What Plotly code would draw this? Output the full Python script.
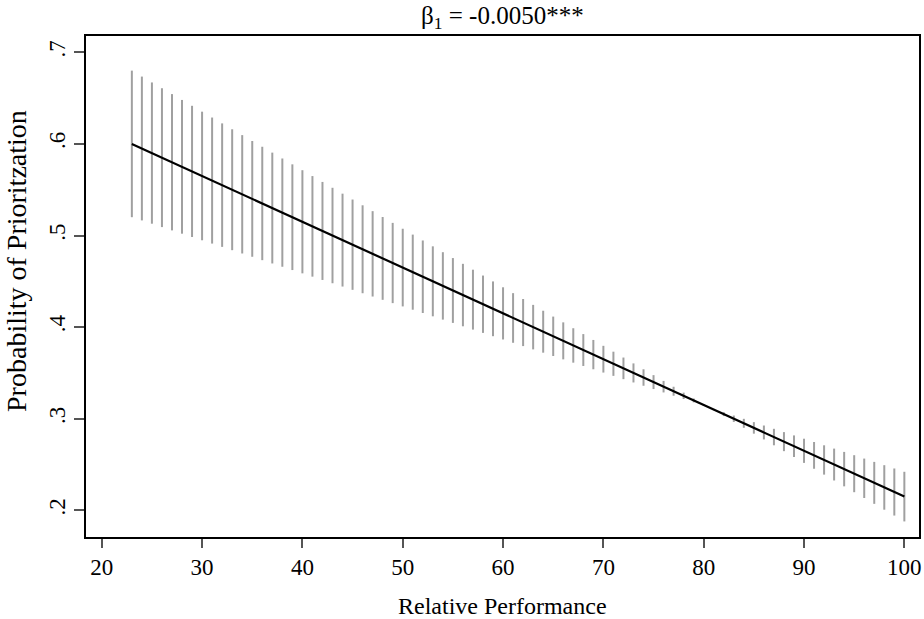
import plotly.graph_objects as go

# Relative performance values (x)
relative_performance = list(range(23, 101))

# Predicted probability of prioritization
probability = [
    0.600, 0.595, 0.590, 0.585, 0.580, 0.575, 0.570, 0.565, 0.560, 0.555,
    0.550, 0.545, 0.540, 0.535, 0.530, 0.525, 0.520, 0.515, 0.510, 0.505,
    0.500, 0.495, 0.490, 0.485, 0.480, 0.475, 0.470, 0.465, 0.460, 0.455,
    0.450, 0.445, 0.440, 0.435, 0.430, 0.425, 0.420, 0.415, 0.410, 0.405,
    0.400, 0.395, 0.390, 0.385, 0.380, 0.375, 0.370, 0.365, 0.360, 0.355,
    0.350, 0.345, 0.340, 0.335, 0.330, 0.325, 0.320, 0.315, 0.310, 0.305,
    0.300, 0.295, 0.290, 0.285, 0.280, 0.275, 0.270, 0.265, 0.260, 0.255,
    0.250, 0.245, 0.240, 0.235, 0.230, 0.225, 0.220, 0.215,
]

# Half-width of the confidence interval
ci_half_width = [
    0.0800, 0.0785, 0.0771, 0.0758, 0.0744, 0.0730, 0.0716, 0.0702, 0.0688, 0.0674,
    0.0660, 0.0646, 0.0632, 0.0619, 0.0605, 0.0591, 0.0577, 0.0563, 0.0549, 0.0535,
    0.0521, 0.0507, 0.0493, 0.0480, 0.0466, 0.0452, 0.0438, 0.0424, 0.0410, 0.0396,
    0.0382, 0.0368, 0.0354, 0.0341, 0.0327, 0.0313, 0.0299, 0.0285, 0.0271, 0.0257,
    0.0243, 0.0229, 0.0215, 0.0202, 0.0188, 0.0174, 0.0160, 0.0146, 0.0132, 0.0118,
    0.0104, 0.0090, 0.0076, 0.0063, 0.0049, 0.0035, 0.0021, 0.0007, 0.0007, 0.0021,
    0.0035, 0.0049, 0.0063, 0.0076, 0.0090, 0.0104, 0.0118, 0.0132, 0.0146, 0.0160,
    0.0174, 0.0188, 0.0202, 0.0215, 0.0229, 0.0243, 0.0257, 0.0271,
]

x_tick_vals = [20, 30, 40, 50, 60, 70, 80, 90, 100]
y_tick_vals = [0.2, 0.3, 0.4, 0.5, 0.6, 0.7]
y_tick_text = [".2", ".3", ".4", ".5", ".6", ".7"]

title_text = "β<sub>1</sub> = -0.0050***"
x_title = "Relative Performance"
y_title = "Probability of Prioritzation"

FONT = "Liberation Serif, Times New Roman, serif"

fig = go.Figure()

fig.add_trace(go.Scatter(
    x=relative_performance,
    y=probability,
    mode="markers",
    marker=dict(size=1, opacity=0),
    error_y=dict(
        type="data",
        array=ci_half_width,
        symmetric=True,
        color="#a0a0a0",
        thickness=2,
        width=0,
    ),
    hoverinfo="skip",
    showlegend=False,
))

fig.add_trace(go.Scatter(
    x=relative_performance,
    y=probability,
    mode="lines",
    line=dict(color="black", width=2.2),
    showlegend=False,
))

fig.update_layout(
    width=924,
    height=619,
    margin=dict(l=86, r=5, t=36, b=82, autoexpand=False),
    paper_bgcolor="white",
    plot_bgcolor="white",
    font=dict(family=FONT, size=23, color="black"),
    annotations=[
        dict(text=title_text, xref="paper", yref="paper", x=0.5, y=1,
             yshift=19, xanchor="center", yanchor="middle", showarrow=False,
             font=dict(family=FONT, size=25, color="black")),
        dict(text=x_title, xref="paper", yref="paper", x=0.5, y=0,
             yshift=-69, xanchor="center", yanchor="middle", showarrow=False,
             font=dict(family=FONT, size=24, color="black")),
        dict(text=y_title, xref="paper", yref="paper", x=0, y=0.551,
             xshift=-69, xanchor="center", yanchor="middle", textangle=-90,
             showarrow=False, font=dict(family=FONT, size=28, color="black")),
    ],
)

fig.update_xaxes(
    range=[18.43, 101.46],
    tickvals=x_tick_vals,
    ticks="outside",
    ticklen=9,
    tickwidth=1.5,
    tickcolor="#555555",
    showline=True,
    linecolor="black",
    linewidth=1.5,
    mirror=True,
    showgrid=False,
    zeroline=False,
    automargin=False,
    tickfont=dict(family=FONT, size=23),
)

fig.update_yaxes(
    range=[0.1709, 0.7178],
    tickvals=y_tick_vals,
    ticktext=y_tick_text,
    tickangle=-90,
    ticks="outside",
    ticklen=10,
    tickwidth=1.5,
    tickcolor="#555555",
    showline=True,
    linecolor="black",
    linewidth=1.5,
    mirror=True,
    showgrid=False,
    zeroline=False,
    automargin=False,
    ticklabelstandoff=0,
    tickfont=dict(family=FONT, size=23),
)

fig.write_html(
    "out.html",
    config={"displayModeBar": False},
    post_script="document.body.style.margin='0';document.body.style.overflow='hidden';",
)
